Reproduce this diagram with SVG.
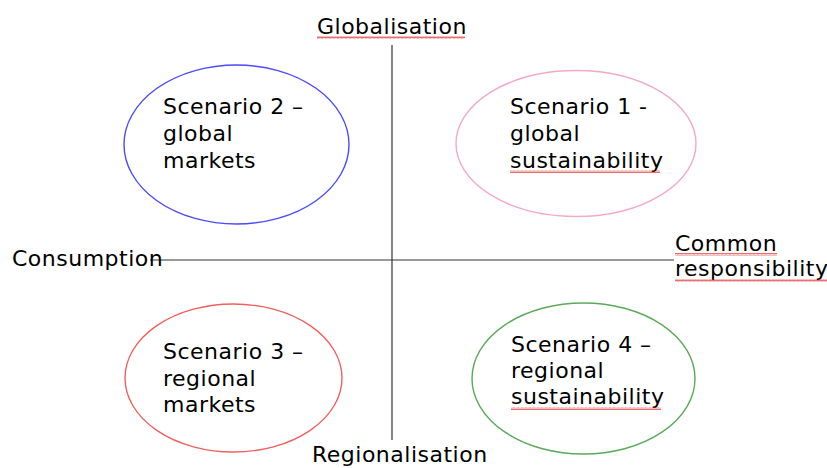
<svg xmlns="http://www.w3.org/2000/svg" width="827" height="468" viewBox="0 0 827 468">
<defs>
<style>
text{font-family:"DejaVu Sans",Verdana,sans-serif;font-size:22px;letter-spacing:0.5px;fill:#000}
.e{fill:none;stroke-width:1.4}
.ax{stroke:#333;stroke-width:1.2;fill:none}
</style>
<pattern id="w" width="4" height="3" patternUnits="userSpaceOnUse"><path d="M0,2.5 L1,0.5 L2,2.5 L3,0.5 L4,2.5" fill="none" stroke="#e03030" stroke-width="0.7"/></pattern>
</defs>
<rect width="827" height="468" fill="#fff"/>
<g id="connectors">
<line class="ax" x1="392" y1="45" x2="392" y2="440"/>
<line class="ax" x1="150" y1="260" x2="674" y2="260"/>
</g>
<g id="axis-labels">
<text x="317" y="34">Globalisation</text>
<text x="12" y="266">Consumption</text>
<text x="675" y="251">Common</text>
<text x="675" y="276">responsibility</text>
<text x="312" y="462">Regionalisation</text>
</g>
<g id="scenario2">
<ellipse class="e" cx="236.5" cy="144.5" rx="112.5" ry="79.5" stroke="#4a4aff"/>
<text x="163" y="114">Scenario 2 –</text>
<text x="163" y="141">global</text>
<text x="163" y="168">markets</text>
</g>
<g id="scenario1">
<ellipse class="e" cx="576" cy="143.5" rx="120" ry="73" stroke="#f5a8c8"/>
<text x="510" y="114">Scenario 1 -</text>
<text x="510" y="141">global</text>
<text x="510" y="168">sustainability</text>
</g>
<g id="scenario3">
<ellipse class="e" cx="233.5" cy="378" rx="108.5" ry="74" stroke="#f06060"/>
<text x="163" y="359">Scenario 3 –</text>
<text x="163" y="386">regional</text>
<text x="163" y="412">markets</text>
</g>
<g id="scenario4">
<ellipse class="e" cx="583.5" cy="378.5" rx="111.5" ry="75.5" stroke="#5aaa5a"/>
<text x="511" y="352">Scenario 4 –</text>
<text x="511" y="378">regional</text>
<text x="511" y="404">sustainability</text>
</g>
<g id="spellcheck-marks">
<rect x="317" y="36" width="148" height="3" fill="url(#w)"/>
<rect x="510" y="170" width="150" height="3" fill="url(#w)"/>
<rect x="511" y="407" width="150" height="3" fill="url(#w)"/>
<rect x="675" y="253" width="102" height="3" fill="url(#w)"/>
<rect x="675" y="279" width="152" height="3" fill="url(#w)"/>
</g>
</svg>
